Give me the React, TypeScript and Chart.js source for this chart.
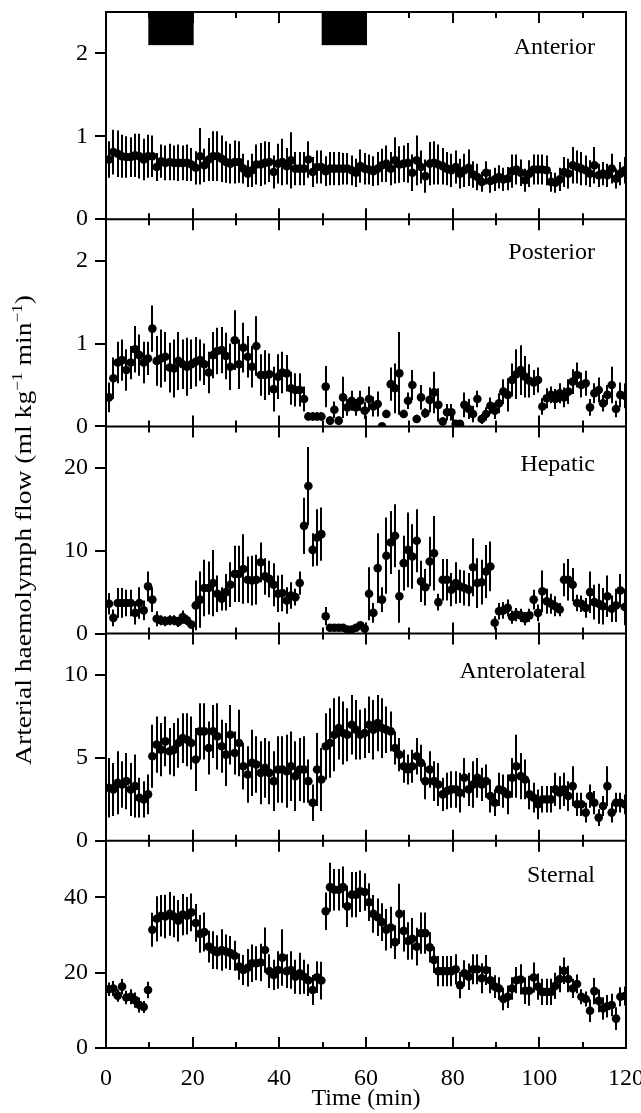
import { useEffect, useRef } from "react";
import { Chart, registerables } from "chart.js";

Chart.register(...registerables);

// ---------- data ----------
// sampling times (min): one mean every minute
const TIME_MIN = Array.from({ length: 120 }, (_, i) => 0.7 + i);
const X_TICKS = [0, 20, 40, 60, 80, 100, 120];
const X_MINOR_TICKS = [10, 20, 30, 40, 50, 60, 70, 80, 90, 100, 110];
const STIM_PERIODS = [
  [10, 20],
  [50, 60],
];
const STIM_LEVEL = 2.1;

const PANEL_NAMES = ["Anterior", "Posterior", "Hepatic", "Anterolateral", "Sternal"];
const PANEL_MAX = [2.5, 2.5, 25, 12.5, 55];
const PANEL_TICKS = [
  [0, 1, 2],
  [0, 1, 2],
  [0, 10, 20],
  [0, 5, 10],
  [0, 20, 40],
];

const ANTERIOR_MEAN = [
  0.72, 0.81, 0.79, 0.76, 0.75, 0.75, 0.77, 0.76, 0.72, 0.76,
  0.76, 0.63, 0.7, 0.68, 0.69, 0.68, 0.68, 0.68, 0.68, 0.66,
  0.62, 0.76, 0.65, 0.72, 0.76, 0.76, 0.73, 0.69, 0.67, 0.69,
  0.69, 0.61, 0.55, 0.59, 0.66, 0.66, 0.68, 0.69, 0.57, 0.67,
  0.69, 0.64, 0.71, 0.61, 0.61, 0.61, 0.72, 0.57, 0.63, 0.63,
  0.58, 0.61, 0.61, 0.61, 0.61, 0.61, 0.59, 0.56, 0.64,
  0.61, 0.6, 0.58, 0.61, 0.65, 0.67, 0.61, 0.71, 0.66, 0.67,
  0.68, 0.56, 0.71, 0.63, 0.52, 0.67, 0.68, 0.66, 0.64, 0.61,
  0.59, 0.63, 0.55, 0.59, 0.62, 0.54, 0.51, 0.45, 0.56, 0.46,
  0.48, 0.51, 0.48, 0.49, 0.58, 0.6, 0.56, 0.47, 0.55, 0.6,
  0.6, 0.6, 0.59, 0.45, 0.44, 0.48, 0.57, 0.55, 0.65, 0.63,
  0.61, 0.59, 0.55, 0.65, 0.53, 0.55, 0.53, 0.61, 0.49, 0.55,
  0.59,
];
const ANTERIOR_SE = [
  0.22, 0.27, 0.28, 0.26, 0.25, 0.24, 0.26, 0.27, 0.25, 0.26,
  0.25, 0.17, 0.2, 0.21, 0.22, 0.21, 0.22, 0.21, 0.22, 0.2,
  0.2, 0.34, 0.2, 0.26, 0.3, 0.3, 0.28, 0.25, 0.24, 0.26,
  0.25, 0.18, 0.16, 0.2, 0.24, 0.26, 0.26, 0.24, 0.2, 0.24,
  0.28, 0.22, 0.34, 0.2, 0.2, 0.2, 0.22, 0.18, 0.2, 0.2,
  0.18, 0.2, 0.2, 0.2, 0.19, 0.19, 0.18, 0.17, 0.2,
  0.19, 0.18, 0.18, 0.2, 0.2, 0.22, 0.2, 0.28, 0.22, 0.22,
  0.24, 0.22, 0.3, 0.2, 0.2, 0.26, 0.26, 0.24, 0.22, 0.2,
  0.2, 0.2, 0.18, 0.2, 0.22, 0.16, 0.16, 0.12, 0.14, 0.14,
  0.14, 0.14, 0.14, 0.14, 0.2, 0.18, 0.16, 0.14, 0.16, 0.18,
  0.18, 0.18, 0.18, 0.12, 0.12, 0.14, 0.18, 0.18, 0.22, 0.2,
  0.2, 0.18, 0.16, 0.22, 0.14, 0.14, 0.14, 0.18, 0.12, 0.14,
  0.16,
];

const POSTERIOR_MEAN = [
  0.35, 0.58, 0.77, 0.8, 0.68, 0.77, 0.93, 0.86, 0.77, 0.82,
  1.18, 0.79, 0.82, 0.84, 0.71, 0.7, 0.79, 0.75, 0.72, 0.75,
  0.78, 0.8, 0.75, 0.65, 0.86, 0.91, 0.92, 0.85, 0.72, 1.04,
  0.75, 0.95, 0.84, 0.72, 0.97, 0.62, 0.62, 0.63, 0.45, 0.6,
  0.65, 0.64, 0.46, 0.44, 0.44, 0.33, 0.12, 0.12, 0.12, 0.12,
  0.48, 0.07, 0.2, 0.07, 0.35, 0.23, 0.31, 0.23, 0.31, 0.19,
  0.33, 0.24, 0.27, 0.0, 0.15, 0.51, 0.46, 0.64, 0.15, 0.31,
  0.5, 0.09, 0.35, 0.16, 0.32, 0.41, 0.26, 0.06, 0.17, 0.17,
  0.03, 0.03, 0.26, 0.21, 0.15, 0.33, 0.09, 0.15, 0.25, 0.19,
  0.28, 0.42, 0.38, 0.56, 0.63, 0.68, 0.6, 0.55, 0.53, 0.56,
  0.24, 0.34, 0.38, 0.33, 0.4, 0.35, 0.42, 0.54, 0.62, 0.5,
  0.52, 0.23, 0.4, 0.44, 0.28, 0.38, 0.5, 0.21, 0.38, 0.37,
];
const POSTERIOR_SE = [
  0.18, 0.25, 0.25, 0.25, 0.25, 0.2, 0.28, 0.25, 0.25, 0.2,
  0.28, 0.3, 0.35, 0.3, 0.3, 0.35, 0.35, 0.3, 0.35, 0.3,
  0.3, 0.25, 0.25, 0.25, 0.28, 0.28, 0.28, 0.28, 0.28, 0.36,
  0.3, 0.3, 0.25, 0.25, 0.36, 0.25, 0.3, 0.25, 0.27, 0.27,
  0.25, 0.22, 0.2, 0.2, 0.2, 0.15, 0.05, 0.05, 0.05, 0.05,
  0.25, 0.05, 0.1, 0.05, 0.25, 0.1, 0.12, 0.1, 0.12, 0.1,
  0.15, 0.12, 0.15, 0.0, 0.05, 0.2, 0.3, 0.5, 0.05, 0.1,
  0.18, 0.05, 0.15, 0.06, 0.15, 0.25, 0.2, 0.05, 0.1, 0.1,
  0.03, 0.03, 0.15, 0.12, 0.1, 0.1, 0.06, 0.08, 0.1, 0.1,
  0.12, 0.15, 0.2, 0.2, 0.3, 0.3, 0.25, 0.2, 0.15, 0.15,
  0.1, 0.12, 0.1, 0.12, 0.12, 0.12, 0.15, 0.15, 0.15, 0.15,
  0.15, 0.1, 0.12, 0.15, 0.1, 0.12, 0.22, 0.1, 0.15, 0.15,
];

const HEPATIC_MEAN = [
  3.6, 1.9, 3.7, 3.7, 3.7, 3.7, 2.5, 3.7, 2.8, 5.7,
  4.1, 1.8, 1.6, 1.5, 1.6, 1.6, 1.4, 2.0, 1.6, 1.1,
  3.4, 4.1, 5.5, 5.5, 6.1, 4.8, 4.2, 5.0, 5.9, 7.2,
  7.2, 7.8, 6.5, 6.4, 6.5, 8.6, 6.9, 6.6, 5.9, 4.8,
  4.9, 4.0, 4.6, 4.4, 6.1, 13.0, 17.8, 10.1, 11.6, 12.0,
  2.1, 0.7, 0.7, 0.7, 0.7, 0.5, 0.5, 0.7, 1.0, 0.6,
  4.8, 2.5, 7.9, 4.1, 9.4, 11.0, 11.8, 4.5, 8.5, 10.1,
  9.3, 11.2, 6.3, 5.6, 8.7, 9.7, 3.8, 6.5, 6.5, 5.3,
  6.1, 5.7, 5.5, 5.3, 8.0, 6.1, 6.2, 7.5, 8.1, 1.3,
  2.7, 2.8, 3.1, 2.0, 2.3, 2.2, 1.8, 2.2, 4.1, 2.5,
  5.1, 3.9, 3.6, 3.3, 2.9, 6.5, 6.5, 5.9, 3.7, 3.6,
  3.1, 5.0, 3.8, 3.6, 3.3, 4.5, 3.0, 3.4, 5.2, 3.2,
];
const HEPATIC_SE = [
  1.3, 1.0, 1.8, 1.8, 1.6, 1.6, 1.4, 1.9, 1.2, 1.8,
  1.5, 0.9, 0.6, 0.6, 0.6, 0.6, 0.6, 0.8, 0.6, 0.5,
  3.0, 3.4, 3.4, 3.2, 4.0, 2.2, 1.4, 2.2, 2.7, 3.4,
  3.4, 4.2, 2.8, 3.0, 3.0, 2.4, 2.2, 2.2, 2.6, 2.2,
  2.2, 1.6, 1.6, 1.0, 1.4, 3.4, 4.7, 2.0, 3.4, 3.2,
  1.1, 0.3, 0.3, 0.3, 0.3, 0.3, 0.3, 0.3, 0.4, 0.3,
  3.2, 1.2, 4.2, 1.5, 4.6, 3.8, 3.8, 3.2, 3.3, 4.5,
  3.9, 3.8, 2.5, 2.2, 3.0, 4.5, 1.0, 2.5, 2.5, 2.0,
  2.5, 2.0, 2.1, 2.0, 3.5, 3.0, 2.7, 3.2, 3.0, 0.8,
  1.0, 1.0, 1.0, 0.8, 0.8, 0.8, 0.8, 0.8, 1.2, 1.0,
  2.5, 1.5, 1.2, 1.2, 0.8, 2.0, 2.5, 2.0, 1.0, 1.0,
  1.2, 2.5, 2.1, 2.4, 2.2, 2.5, 1.6, 2.0, 2.0, 2.2,
];

const ANTEROLATERAL_MEAN = [
  3.2, 3.1, 3.5, 3.4, 3.6, 3.1, 3.3, 2.6, 2.5, 2.8,
  5.1, 5.8, 5.5, 6.0, 5.4, 5.5, 5.9, 6.2, 6.1, 5.9,
  4.9, 6.6, 6.6, 5.6, 6.6, 6.3, 5.7, 5.2, 6.4, 5.3,
  5.9, 4.5, 4.0, 4.7, 4.6, 4.1, 4.4, 4.1, 3.6, 4.3,
  4.3, 4.2, 4.5, 3.9, 4.3, 4.3, 3.6, 2.3, 4.3, 3.7,
  5.7, 5.9, 6.4, 6.8, 6.5, 6.4, 7.0, 6.7, 6.4, 6.5,
  7.0, 6.7, 7.1, 6.8, 6.7, 6.6, 5.6, 5.2, 4.5, 4.3,
  4.5, 5.1, 4.7, 3.6, 4.3, 3.6, 3.4, 2.8, 3.0, 3.1,
  3.1, 2.9, 3.8, 3.1, 3.4, 3.8, 3.4, 3.6, 2.7, 2.3,
  3.1, 3.0, 2.8, 3.8, 4.5, 3.9, 3.7, 2.8, 2.6, 2.2,
  2.5, 2.5, 2.5, 3.1, 2.9, 3.1, 2.7, 3.3, 2.2, 2.2,
  1.7, 2.7, 2.3, 1.4, 2.1, 3.3, 1.7, 2.3, 2.3, 2.2,
];
const ANTEROLATERAL_SE = [
  1.8, 1.6, 1.9, 1.4, 1.7, 1.6, 1.9, 1.2, 1.1, 1.2,
  1.9, 1.7, 1.6, 1.5, 1.4, 1.6, 1.5, 1.5, 1.6, 1.6,
  1.9, 1.7, 1.7, 1.6, 1.6, 2.0, 1.6, 1.9, 1.8, 1.3,
  2.0, 1.4, 1.7, 2.0, 1.7, 1.9, 1.8, 1.9, 1.8, 2.0,
  2.0, 2.2, 2.1, 2.1, 1.9, 2.0, 1.3, 1.1, 2.2, 1.9,
  2.0, 2.1, 2.2, 1.9, 1.9, 1.6, 1.8, 1.8, 1.5, 1.5,
  1.7, 1.8, 1.7, 1.8, 1.4, 1.2, 1.0, 1.0, 1.0, 0.9,
  1.0, 1.1, 1.1, 1.1, 1.1, 1.2, 1.3, 1.0, 1.1, 1.1,
  1.1, 1.2, 1.2, 1.0, 1.4, 1.2, 1.0, 1.0, 1.0, 0.8,
  1.0, 1.0, 1.2, 1.2, 1.9, 1.4, 1.2, 0.9, 0.9, 0.9,
  0.8, 0.8, 0.8, 1.0, 1.0, 1.0, 0.9, 1.2, 0.7, 0.7,
  0.6, 0.7, 0.7, 0.5, 0.6, 1.2, 0.6, 0.6, 0.6, 0.6,
];

const STERNAL_MEAN = [
  15.6, 15.8, 13.9, 16.3, 13.4, 13.6, 12.7, 11.4, 10.9, 15.4,
  31.4, 34.3, 35.1, 34.9, 35.6, 34.9, 33.8, 35.4, 35.1, 36.0,
  33.2, 30.3, 30.8, 26.9, 26.0, 25.4, 26.0, 25.6, 25.2, 24.5,
  21.6, 20.7, 21.3, 22.5, 22.5, 22.7, 26.0, 20.4, 19.4, 20.7,
  24.0, 20.4, 20.7, 18.9, 19.8, 18.9, 18.0, 15.4, 18.8, 17.9,
  36.3, 42.7, 42.0, 42.0, 42.7, 37.6, 40.7, 40.7, 41.6, 41.4,
  38.7, 35.6, 34.7, 33.4, 31.4, 32.0, 28.1, 35.6, 31.1, 28.4,
  29.0, 26.9, 30.5, 30.5, 26.7, 23.4, 20.4, 20.4, 20.4, 20.4,
  20.9, 16.7, 19.8, 18.9, 20.9, 20.9, 18.5, 20.7, 18.0, 16.3,
  15.8, 13.0, 13.6, 15.8, 18.0, 18.2, 15.2, 15.2, 18.7, 16.3,
  14.9, 14.9, 14.9, 16.5, 18.3, 20.5, 18.3, 15.8, 17.0, 13.6,
  13.0, 9.9, 15.1, 12.5, 10.5, 11.1, 11.4, 7.8, 13.6, 13.8,
];
const STERNAL_SE = [
  1.8, 2.0, 1.6, 2.0, 1.8, 2.0, 2.0, 2.0, 1.6, 2.2,
  4.5, 6.0, 5.5, 5.8, 5.8, 5.5, 5.5, 5.5, 5.0, 5.0,
  5.0, 5.0, 5.2, 4.2, 5.0, 4.5, 5.5, 4.5, 4.5, 4.0,
  3.5, 4.0, 5.0, 5.0, 4.5, 5.0, 6.0, 4.5, 4.0, 5.0,
  7.5, 4.5, 5.0, 4.5, 5.5, 4.5, 4.2, 4.0, 4.2, 5.0,
  5.0, 6.5, 5.5, 5.5, 5.5, 5.5, 6.0, 6.0, 5.5, 5.0,
  5.0, 5.0, 5.0, 5.0, 5.5, 5.5, 4.5, 8.0, 5.5, 5.0,
  5.5, 5.0, 5.5, 5.5, 4.0, 3.5, 4.0, 4.0, 4.0, 4.0,
  4.0, 3.5, 3.5, 3.5, 4.0, 4.0, 4.0, 4.0, 3.5, 3.0,
  3.0, 3.0, 3.0, 3.0, 3.5, 4.0, 3.5, 4.0, 4.0, 3.5,
  3.5, 3.5, 3.5, 3.5, 3.5, 3.5, 3.5, 2.5, 2.5, 2.0,
  2.0, 3.0, 3.5, 3.0, 3.0, 3.0, 3.0, 3.0, 2.5, 2.5,
];

const PANEL_MEANS = [ANTERIOR_MEAN, POSTERIOR_MEAN, HEPATIC_MEAN, ANTEROLATERAL_MEAN, STERNAL_MEAN];
const PANEL_SES = [ANTERIOR_SE, POSTERIOR_SE, HEPATIC_SE, ANTEROLATERAL_SE, STERNAL_SE];

const X_TITLE = "Time (min)";
const Y_TITLE_PARTS: [string, boolean][] = [
  ["Arterial haemolymph flow (ml kg", false],
  ["\u22121", true],
  [" min", false],
  ["\u22121", true],
  [")", false],
];

// ---------- style ----------
const FONT = '"Liberation Serif", "Times New Roman", Times, serif';
const FS = 24;
const LABEL_DX = [31, 31, 31, 40, 31];
const LABEL_DY = [42, 40, 45, 44, 41];

const panelPlugin = {
  id: "panelPlugin",
  beforeDatasetsDraw(chart: any) {
    const ctx = chart.ctx;
    const xs = chart.scales.x;
    ctx.save();
    ctx.strokeStyle = "#000";
    ctx.lineWidth = 2;
    PANEL_NAMES.forEach((_, k) => {
      const ys = chart.scales["y" + k];
      const mean = PANEL_MEANS[k];
      const se = PANEL_SES[k];
      ctx.beginPath();
      TIME_MIN.forEach((t, i) => {
        const m = mean[i];
        const e = se[i];
        if (m == null || !e) return;
        const px = Math.round(xs.getPixelForValue(t));
        const a = Math.max(ys.getPixelForValue(m + e), ys.top);
        const b = Math.min(ys.getPixelForValue(m - e), ys.bottom);
        ctx.moveTo(px, a);
        ctx.lineTo(px, b);
      });
      ctx.stroke();
    });
    // stimulation bars in the top panel
    const y0 = chart.scales.y0;
    ctx.fillStyle = "#000";
    STIM_PERIODS.forEach(([s, e]) => {
      const l = xs.getPixelForValue(s) - 1;
      const r = xs.getPixelForValue(e) + 1;
      const top = y0.top;
      const bot = y0.getPixelForValue(STIM_LEVEL);
      ctx.fillRect(l, top, r - l, bot - top);
    });
    ctx.restore();
  },
  afterDraw(chart: any) {
    const ctx = chart.ctx;
    const xs = chart.scales.x;
    const area = chart.chartArea;
    ctx.save();
    ctx.strokeStyle = "#000";
    ctx.lineWidth = 2;
    ctx.lineCap = "square";
    ctx.beginPath();
    ctx.moveTo(area.left, area.top);
    ctx.lineTo(area.left, area.bottom);
    ctx.moveTo(area.right, area.top);
    ctx.lineTo(area.right, area.bottom);
    PANEL_NAMES.forEach((_, k) => {
      const ys = chart.scales["y" + k];
      ctx.moveTo(area.left, ys.top);
      ctx.lineTo(area.right, ys.top);
      ctx.moveTo(area.left, ys.bottom);
      ctx.lineTo(area.right, ys.bottom);
      X_MINOR_TICKS.forEach((v) => {
        const len = X_TICKS.includes(v) ? 10 : 5;
        const px = Math.round(xs.getPixelForValue(v));
        ctx.moveTo(px, ys.top);
        ctx.lineTo(px, ys.top + len);
        ctx.moveTo(px, ys.bottom);
        ctx.lineTo(px, ys.bottom - len);
      });
    });
    ctx.stroke();

    // panel names
    ctx.fillStyle = "#000";
    ctx.font = `${FS}px ${FONT}`;
    ctx.textAlign = "right";
    ctx.textBaseline = "alphabetic";
    PANEL_NAMES.forEach((name, k) => {
      const ys = chart.scales["y" + k];
      ctx.fillText(name, area.right - LABEL_DX[k], ys.top + LABEL_DY[k]);
    });

    // y title with superscripts
    const supSize = 15;
    const widths = Y_TITLE_PARTS.map(([txt, sup]) => {
      ctx.font = `${sup ? supSize : FS}px ${FONT}`;
      return ctx.measureText(txt).width;
    });
    const total = widths.reduce((a, b) => a + b, 0);
    const target = 470;
    const cy = (area.top + area.bottom) / 2;
    ctx.translate(31, cy);
    ctx.rotate(-Math.PI / 2);
    ctx.scale(target / total, 1);
    ctx.textAlign = "left";
    let x = -total / 2;
    Y_TITLE_PARTS.forEach(([txt, sup], i) => {
      ctx.font = `${sup ? supSize : FS}px ${FONT}`;
      ctx.fillText(txt, x, sup ? -9 : 0);
      x += widths[i];
    });
    ctx.restore();
  },
};

export default function App() {
  const ref = useRef<HTMLCanvasElement | null>(null);

  useEffect(() => {
    if (!ref.current) return;
    const tickFont = { family: FONT, size: FS };
    const scales: any = {
      x: {
        type: "linear",
        position: "bottom",
        min: 0,
        max: 120,
        afterBuildTicks: (s: any) => {
          s.ticks = X_TICKS.map((v) => ({ value: v }));
        },
        afterFit: (s: any) => {
          s.height = 65;
          s.paddingLeft = 0;
          s.paddingRight = 0;
        },
        grid: { display: false, drawTicks: false },
        border: { display: false },
        ticks: { font: tickFont, color: "#000", padding: 16, maxRotation: 0, autoSkip: false },
        title: {
          display: true,
          text: X_TITLE,
          font: tickFont,
          color: "#000",
          padding: { top: 0, bottom: 0 },
        },
      },
    };
    // stacked left axes: the last one defined is laid out at the top,
    // so define them from the bottom panel upwards
    for (let k = PANEL_NAMES.length - 1; k >= 0; k--) {
      scales["y" + k] = {
        type: "linear",
        position: "left",
        stack: "panels",
        stackWeight: 1,
        min: 0,
        max: PANEL_MAX[k],
        afterBuildTicks: (s: any) => {
          s.ticks = PANEL_TICKS[k].map((v) => ({ value: v }));
        },
        afterFit: (s: any) => {
          s.width = 106;
          s.paddingTop = 0;
          s.paddingBottom = 0;
        },
        grid: {
          display: true,
          drawOnChartArea: false,
          drawTicks: true,
          tickLength: 11,
          lineWidth: 2,
          color: "#000",
        },
        border: { display: false },
        ticks: { font: tickFont, color: "#000", padding: 7, autoSkip: false },
      };
    }

    const datasets = PANEL_NAMES.map((name, k) => ({
      type: "scatter" as const,
      label: name,
      data: TIME_MIN.map((t, i) => ({ x: t, y: PANEL_MEANS[k][i] })),
      yAxisID: "y" + k,
      xAxisID: "x",
      pointRadius: 4.3,
      pointHoverRadius: 4.3,
      pointBackgroundColor: "#000",
      pointBorderColor: "#000",
      pointBorderWidth: 0,
      showLine: false,
    }));

    const chart = new Chart(ref.current, {
      type: "scatter",
      data: { datasets },
      options: {
        responsive: false,
        animation: false,
        devicePixelRatio: 1,
        layout: { padding: { top: 12, right: 15, bottom: 0, left: 0 } },
        plugins: { legend: { display: false }, tooltip: { enabled: false } },
        scales,
      } as any,
      plugins: [panelPlugin],
    });
    return () => chart.destroy();
  }, []);

  return (
    <div style={{ position: "absolute", left: 0, top: 0, width: 641, height: 1113, background: "#fff" }}>
      <canvas ref={ref} width={641} height={1113} style={{ display: "block" }} />
    </div>
  );
}
